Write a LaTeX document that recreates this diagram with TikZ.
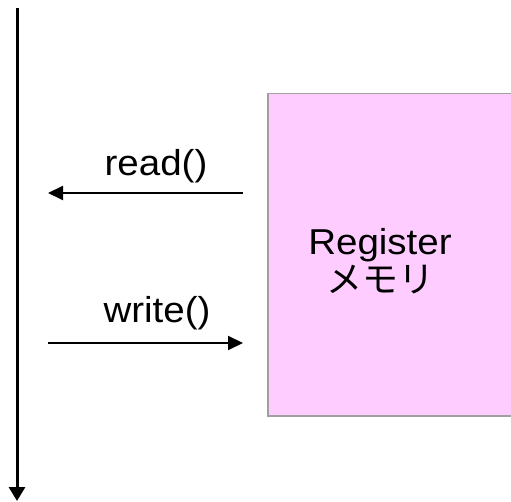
\documentclass[tikz,border=0pt]{standalone}
\usepackage{fontspec}
\setmainfont{Liberation Sans}[FakeStretch=1.07]
\newfontfamily\jpfont{Noto Sans CJK JP}
\usetikzlibrary{arrows.meta}
\definecolor{mempink}{HTML}{FFCCFF}
\definecolor{memedge}{HTML}{A0A0A0}

\begin{document}
\begin{tikzpicture}[x=1pt,y=-1pt,
  call/.style={-{Triangle[width=14pt,length=15pt]}, line width=2pt},
  lbl/.style={font=\fontsize{36}{38}\selectfont, inner sep=0pt}]
  \useasboundingbox (0,0) rectangle (511,502);

  % nodes
  \node[draw=memedge, fill=mempink, line width=1.5pt, anchor=north west,
        minimum width=273pt, minimum height=322pt] (mem) at (267,93) {};
  \node[lbl, align=center] (memtxt) at (380,261) {Register\\{\jpfont メモリ}};
  \coordinate (top) at (17,8);
  \coordinate (bottom) at (17,501);
  \coordinate (rdfrom) at (243,193);
  \coordinate (rdto) at (48,193);
  \coordinate (wrfrom) at (48,343);
  \coordinate (wrto) at (243,343);

  % arrows
  \draw[-{Triangle[width=16pt,length=14pt]}, line width=3pt] (top) -- (bottom);
  \draw[call] (rdfrom) -- (rdto);
  \draw[call] (wrfrom) -- (wrto);

  % labels
  \node[lbl] (rdlbl) at (156,166) {read()};
  \node[lbl] (wrlbl) at (157,313) {write()};

\end{tikzpicture}
\end{document}
